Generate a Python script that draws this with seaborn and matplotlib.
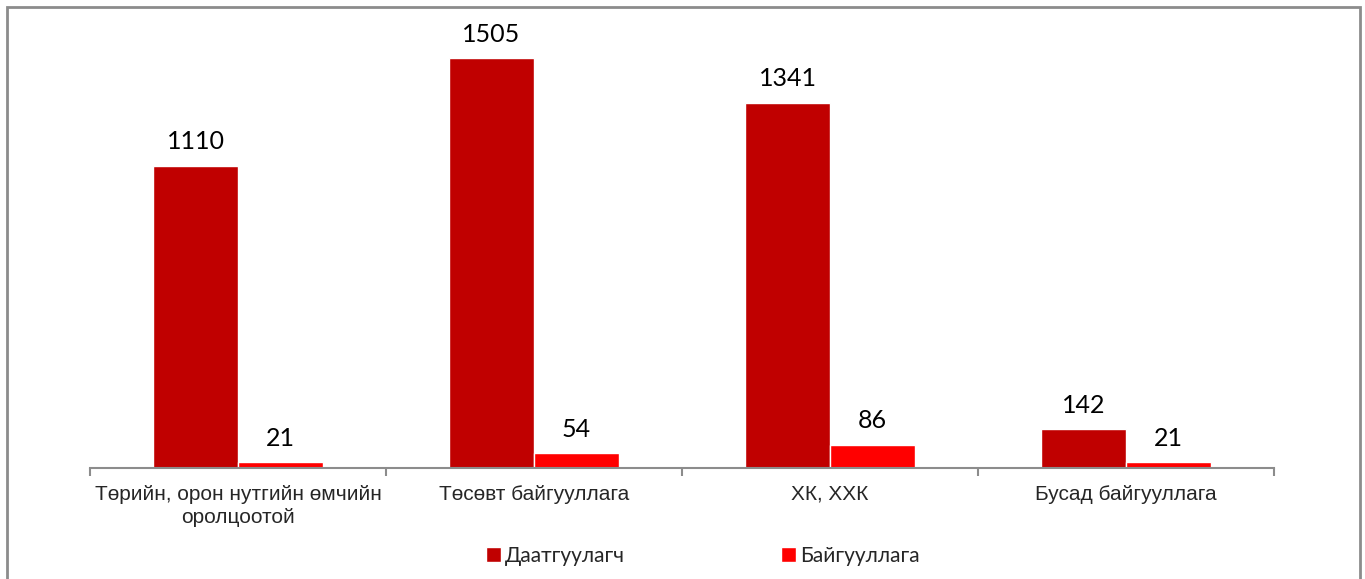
import pandas as pd
import matplotlib.pyplot as plt
import seaborn as sns
from matplotlib.patches import Rectangle
from matplotlib.ticker import FixedLocator

categories = ["Төрийн, орон нутгийн өмчийн\nоролцоотой", "Төсөвт байгууллага", "ХК, ХХК", "Бусад байгууллага"]
series_names = ["Даатгуулагч", "Байгууллага"]
insured = [1110, 1505, 1341, 142]
organizations = [21, 54, 86, 21]
colors = ["#C00000", "#FF0000"]

df = pd.DataFrame({
    "category": categories * 2,
    "series": [series_names[0]] * 4 + [series_names[1]] * 4,
    "value": insured + organizations,
})

sns.set_style("white")
plt.rcParams["font.family"] = ["Liberation Sans", "DejaVu Sans"]

fig = plt.figure(figsize=(13.65, 5.79), dpi=100)
ax = fig.add_axes([90 / 1365, 111 / 579, 1184 / 1365, 448 / 579])

sns.barplot(data=df, x="category", y="value", hue="series", palette=colors,
            width=0.574, saturation=1, ax=ax, legend=True)

for cont in ax.containers:
    ax.bar_label(cont, padding=9, fontsize=18, family="Lato", color="black")

ax.set_xlim(-0.5, 3.5)
ax.set_ylim(0, 1645)
ax.set_xlabel("")
ax.set_ylabel("")
ax.set_yticks([])
for side in ["top", "left", "right"]:
    ax.spines[side].set_visible(False)
ax.spines["bottom"].set_color("#8c8c8c")
ax.spines["bottom"].set_linewidth(1.5)

ax.tick_params(axis="x", which="major", length=0, pad=12, labelsize=15)
for lbl in ax.get_xticklabels():
    lbl.set_linespacing(1.3)
ax.xaxis.set_minor_locator(FixedLocator([-0.5, 0.5, 1.5, 2.5, 3.5]))
ax.tick_params(axis="x", which="minor", bottom=True, length=6, width=1.5,
               color="#8c8c8c", direction="out")

handles, labels = ax.get_legend_handles_labels()
ax.legend(handles, labels, loc="center", bbox_to_anchor=(703 / 1365, (579 - 556) / 579),
          bbox_transform=fig.transFigure, ncol=2, frameon=False,
          prop={"family": "Lato", "size": 15}, handlelength=0.7, handleheight=0.7,
          handletextpad=0.2, columnspacing=7.5)

# outer chart frame
fig.patches.append(Rectangle((7 / 1365, -0.05), (1360 - 7) / 1365, 1.05 - 7 / 579,
                             transform=fig.transFigure, fill=False,
                             edgecolor="#8c8c8c", linewidth=2))

fig.savefig("out.png", dpi=100)
